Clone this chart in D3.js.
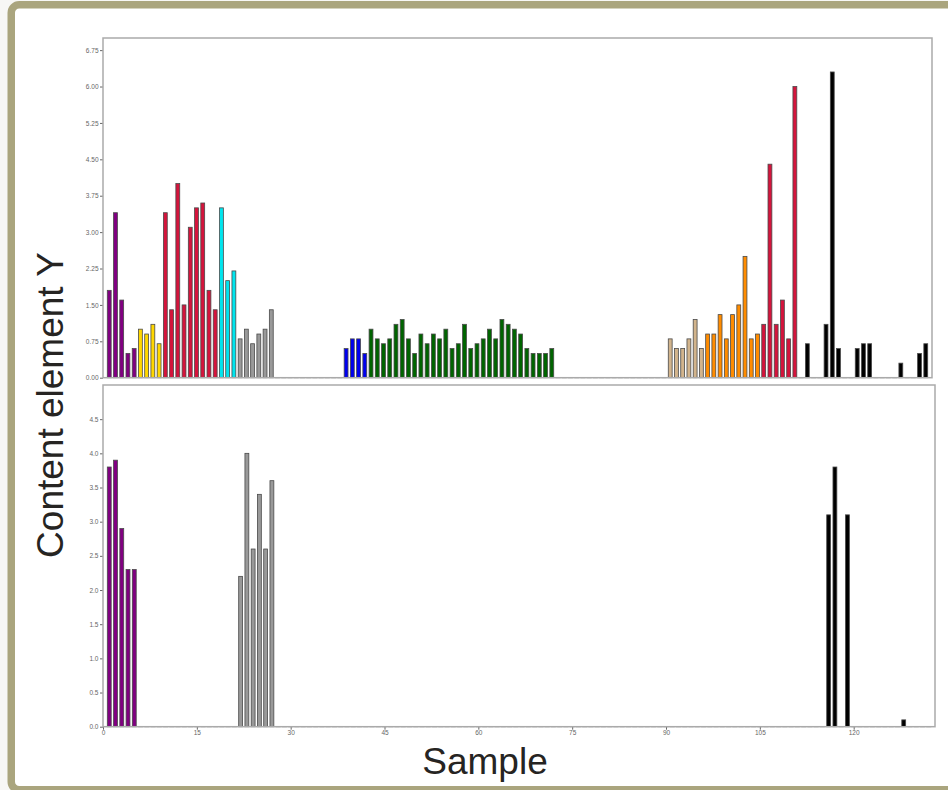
<!DOCTYPE html>
<html>
<head>
<meta charset="utf-8">
<script src="https://cdn.jsdelivr.net/npm/d3@7"></script>
<style>
  html, body { margin: 0; padding: 0; background: #f7f7f5; }
  svg { display: block; font-family: "Liberation Sans", Arial, sans-serif; }
  .tick text { font-size: 6.5px; }
</style>
</head>
<body>
<svg id="chart" width="948" height="790"></svg>
<script>
// samples 1..132, one value per sample
var topValues = [
  1.8, 3.4, 1.6, 0.5, 0.6,
  1.0, 0.9, 1.1, 0.7,
  3.4, 1.4, 4.0, 1.5, 3.1, 3.5, 3.6, 1.8, 1.4,
  3.5, 2.0, 2.2,
  0.8, 1.0, 0.7, 0.9, 1.0, 1.4,
  0, 0, 0, 0, 0, 0, 0, 0, 0, 0, 0,
  0.6, 0.8, 0.8, 0.5,
  1.0, 0.8, 0.7, 0.8, 1.1, 1.2, 0.8, 0.5, 0.9, 0.7, 0.9, 0.8, 1.0, 0.6, 0.7,
  1.1, 0.6, 0.7, 0.8, 1.0, 0.8, 1.2, 1.1, 1.0, 0.9, 0.6, 0.5, 0.5, 0.5, 0.6,
  0, 0, 0, 0, 0, 0, 0, 0, 0, 0, 0, 0, 0, 0, 0, 0, 0, 0,
  0.8, 0.6, 0.6, 0.8, 1.2, 0.6,
  0.9, 0.9, 1.3, 0.8, 1.3, 1.5, 2.5, 0.8, 0.9,
  1.1, 4.4, 1.1, 1.6, 0.8, 6.0,
  0, 0.7, 0, 0, 1.1, 6.3, 0.6, 0, 0, 0.6, 0.7, 0.7, 0, 0, 0, 0, 0.3, 0, 0, 0.5, 0.7
];

var bottomValues = [
  3.8, 3.9, 2.9, 2.3, 2.3,
  0, 0, 0, 0, 0, 0, 0, 0, 0, 0, 0, 0, 0, 0, 0, 0,
  2.2, 4.0, 2.6, 3.4, 2.6, 3.6
];
// rest of the bottom series is zero except a few samples
while (bottomValues.length < 132) bottomValues.push(0);
bottomValues[115] = 3.1;  // sample 116
bottomValues[116] = 3.8;  // sample 117
bottomValues[118] = 3.1;  // sample 119
bottomValues[127] = 0.1;  // sample 128

// sample groups: first sample of each group
var groupStarts = [1, 6, 10, 19, 22, 28, 39, 43, 73, 91, 97, 106, 112];
var groupNames  = ["A", "B", "C", "D", "E", "-", "F", "G", "-", "H", "I", "J", "K"];

var topTicks = [0, 0.75, 1.5, 2.25, 3, 3.75, 4.5, 5.25, 6, 6.75];
var bottomTicks = [0, 0.5, 1, 1.5, 2, 2.5, 3, 3.5, 4, 4.5];
var xTicks = [0, 15, 30, 45, 60, 75, 90, 105, 120];

var xLabel = "Sample";
var yLabel = "Content element Y";

var groupColor = d3.scaleOrdinal()
  .domain(["A", "B", "C", "D", "E", "F", "G", "H", "I", "J", "K", "-"])
  .range(["#800080", "#ffd700", "#d4143c", "#00e5ee", "#999999", "#0000ee",
          "#006400", "#d2b48c", "#ff8c00", "#d4143c", "#000000", "#999999"]);

function groupOf(sample) {
  return groupNames[d3.bisectRight(groupStarts, sample) - 1];
}

var svg = d3.select("#chart");

// outer olive frame
svg.append("rect")
  .attr("x", 11.25).attr("y", 4.8)
  .attr("width", 960).attr("height", 785)
  .attr("rx", 8)
  .attr("fill", "#fff")
  .attr("stroke", "#aaa57e")
  .attr("stroke-width", 7.5);

function drawPanel(values, opts) {
  var x = d3.scaleLinear().domain([0, 133]).range([opts.left, opts.right]);
  var y = d3.scaleLinear().domain(opts.yDomain).range([opts.bottom, opts.top]);
  var step = x(1) - x(0);
  var bw = step * 0.62;

  var g = svg.append("g");

  var data = values.map(function(v, i) { return { sample: i + 1, value: v }; });

  // zero samples still get an outlined (flat) bar, which gives the dashed baseline
  g.append("g")
    .selectAll("rect")
    .data(data)
    .enter().append("rect")
      .attr("x", function(d) { return x(d.sample) - bw / 2; })
      .attr("y", function(d) { return y(d.value); })
      .attr("width", bw)
      .attr("height", function(d) { return Math.max(y(0) - y(d.value), 0.01); })
      .attr("fill", function(d) { return groupColor(groupOf(d.sample)); })
      .attr("stroke", function(d) { return d.value ? "#4a4a4a" : "#9a9a9a"; })
      .attr("stroke-width", function(d) { return d.value ? 0.8 : 1; });

  var yAxis = g.append("g")
    .attr("transform", "translate(" + opts.left + ",0)")
    .attr("color", "#666")
    .call(d3.axisLeft(y).tickValues(opts.yTicks).tickFormat(d3.format(opts.fmt))
      .tickSize(3).tickSizeOuter(0).tickPadding(1.5));
  yAxis.select(".domain").remove();

  if (opts.showX) {
    var xAxis = g.append("g")
      .attr("transform", "translate(0," + opts.bottom + ")")
      .attr("color", "#666")
      .call(d3.axisBottom(x).tickValues(xTicks).tickFormat(d3.format("d"))
        .tickSize(3).tickSizeOuter(0).tickPadding(1));
    xAxis.select(".domain").remove();
  }

  // panel border
  g.append("rect")
    .attr("x", opts.left).attr("y", opts.top)
    .attr("width", opts.right - opts.left)
    .attr("height", opts.bottom - opts.top)
    .attr("fill", "none")
    .attr("stroke", "#aaa")
    .attr("stroke-width", 1.5);
}

drawPanel(topValues, {
  left: 103, right: 932, top: 38, bottom: 377.7,
  yDomain: [0, 7], yTicks: topTicks, fmt: ".2f", showX: false
});

drawPanel(bottomValues, {
  left: 103, right: 935, top: 385, bottom: 726.7,
  yDomain: [0, 5], yTicks: bottomTicks, fmt: ".1f", showX: true
});

svg.append("text")
  .attr("x", 485).attr("y", 774)
  .attr("text-anchor", "middle")
  .attr("font-size", 37)
  .attr("fill", "#262422")
  .text(xLabel);

svg.append("text")
  .attr("transform", "translate(63,405) rotate(-90)")
  .attr("text-anchor", "middle")
  .attr("font-size", 37)
  .attr("fill", "#262422")
  .text(yLabel);
</script>
</body>
</html>
